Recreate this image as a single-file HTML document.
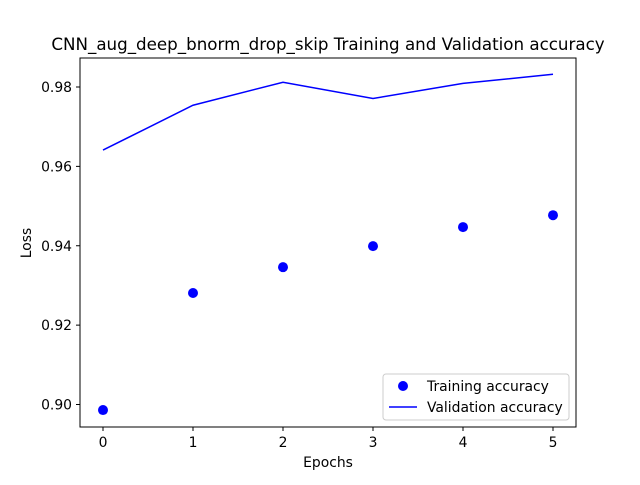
<!DOCTYPE html>
<html><head><meta charset="utf-8"><style>body{margin:0;background:#fff}svg{font-family:"DejaVu Sans","Liberation Sans",sans-serif}</style></head>
<body>
<svg id="chart" width="640" height="480" xmlns="http://www.w3.org/2000/svg">
<rect width="640" height="480" fill="#fff"/>
<text x="328" y="50" font-size="16.7" text-anchor="middle">CNN_aug_deep_bnorm_drop_skip Training and Validation accuracy</text>
<g id="ticks"></g>
<g id="marks"></g>
<rect x="80" y="58" width="496" height="369" fill="none" stroke="#000" stroke-width="1"/>
<text x="328" y="467" font-size="13.9" text-anchor="middle">Epochs</text>
<text x="31" y="243" font-size="13.9" text-anchor="middle" transform="rotate(-90 31 243)">Loss</text>
<g>
<rect x="383" y="374" width="186" height="46" rx="3" fill="#fff" stroke="#ccc"/>
<circle cx="403" cy="386" r="5" fill="#0000ff"/>
<text x="427" y="391" font-size="13.9">Training accuracy</text>
<line x1="389" y1="407" x2="417" y2="407" stroke="#0000ff" stroke-width="1.5"/>
<text x="427" y="412" font-size="13.9">Validation accuracy</text>
</g>
</svg>
<script>
const epochs=[0,1,2,3,4,5];
const trainAcc=[0.8986,0.9281,0.9346,0.9399,0.9447,0.9477];
const valAcc=[0.9641,0.9754,0.9812,0.9771,0.9809,0.9832];
const xTicks=[0,1,2,3,4,5];
const yTicks=[0.90,0.92,0.94,0.96,0.98];
const yTickLabels=["0.90","0.92","0.94","0.96","0.98"];
const NS="http://www.w3.org/2000/svg";
function xs(v){return 103+v*90;}
function ys(v){return 404.5-(v-0.9)*3968.75;}
function mk(tag,attrs,parent){const e=document.createElementNS(NS,tag);for(const k in attrs)e.setAttribute(k,attrs[k]);parent.appendChild(e);return e;}
const tg=document.getElementById('ticks'),mg=document.getElementById('marks');
xTicks.forEach(t=>{
 const l=mk('line',{x1:xs(t),x2:xs(t),y1:427,y2:431,stroke:'#000'},tg);
 
 
 const tx=mk('text',{x:xs(t),y:447,'font-size':13.9,'text-anchor':'middle'},tg);tx.textContent=t;
 
 
});
yTicks.forEach((t,i)=>{
 const l=mk('line',{x1:76,x2:80,y1:ys(t),y2:ys(t),stroke:'#000'},tg);
 
 
 const tx=mk('text',{x:72,y:ys(t)+5,'font-size':13.9,'text-anchor':'end'},tg);tx.textContent=yTickLabels[i];
 
 
});
const pl=mk('polyline',{points:epochs.map((e,i)=>xs(e)+','+ys(valAcc[i])).join(' '),fill:'none',stroke:'#0000ff','stroke-width':1.5},mg);


epochs.forEach((e,i)=>{
 const c=mk('circle',{cx:xs(e),cy:ys(trainAcc[i]),r:5,fill:'#0000ff'},mg);
 
 
});
</script>
</body></html>
